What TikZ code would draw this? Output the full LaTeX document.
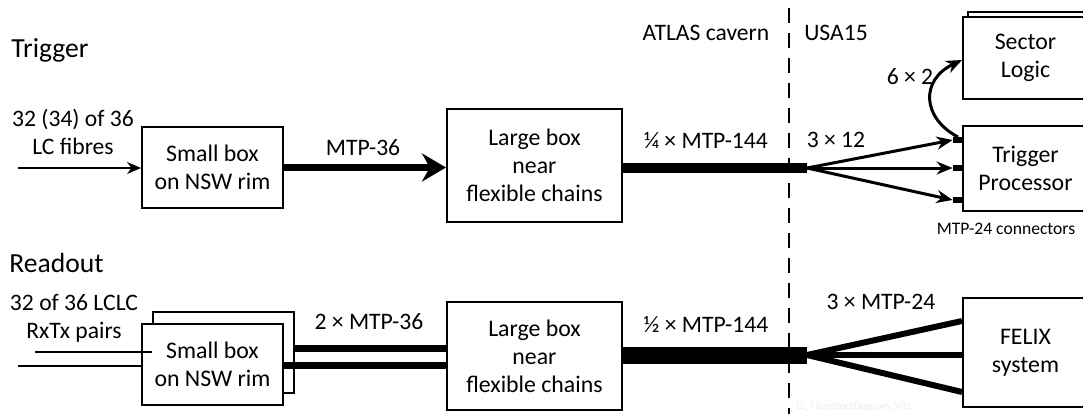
\documentclass[tikz,border=0pt]{standalone}
\usepackage{fontspec}
\setmainfont{Carlito}
\usetikzlibrary{arrows.meta,positioning,calc}

\tikzset{
  unitbox/.style={draw, line width=1pt, fill=white, align=center, inner sep=0pt,
    font=\fontsize{11.9}{14}\selectfont},
  lbl/.style={align=center, inner sep=0pt, font=\fontsize{11.8}{14}\selectfont},
  headlbl/.style={anchor=west, inner sep=0pt, font=\fontsize{13.8}{16}\selectfont},
  thinfibre/.style={line width=1pt},
  stub/.style={fill=black, inner sep=0pt, minimum width=5pt, minimum height=2.6pt}
}

\begin{document}
\begin{tikzpicture}[x=0.5pt, y=-0.5pt]
  \clip (0,0) rectangle (1083,414);
  \fill[white] (0,0) rectangle (1083,414);

  % Section titles and places
  \node[headlbl] (trig) at (11,50) {Trigger};
  \node[headlbl] (read) at (9,263) {Readout};
  \node[lbl] (cavern) at (706,33) {ATLAS cavern};
  \node[lbl] (usa) at (836,33) {USA15};
  \draw[line width=1pt, dash pattern=on 7.5pt off 5pt] (789,8) -- (789,414);

  % Trigger chain
  \node[lbl] (lcin) at (73,132) {32 (34) of 36\\LC fibres};
  \node[unitbox, minimum width=70.5pt, minimum height=40.5pt] (sb1) at (212.5,167.5) {Small box\\on NSW rim};
  \node[unitbox, minimum width=87.5pt, minimum height=56.5pt] (lb1) at (534.5,165.5) {Large box\\near\\flexible chains};
  \node[unitbox, minimum width=62.5pt, minimum height=41pt] (sls) at (1030.5,53) {};
  \node[unitbox, minimum width=62.5pt, minimum height=41pt] (sl) at (1025.5,58) {Sector\\Logic};
  \node[unitbox, minimum width=62.5pt, minimum height=42.5pt] (tp) at (1025.5,168.5) {Trigger\\Processor};
  \node[stub] (c1) at (958,140) {};
  \node[stub] (c2) at (958,168) {};
  \node[stub] (c3) at (958,200) {};
  \coordinate (in1) at (18,168);
  \coordinate (fan1) at (807,168);

  \draw[thinfibre, -{Stealth[length=7pt,width=6pt]}] (in1) -- (in1 -| sb1.west);
  \draw[line width=3.5pt, -{Stealth[length=12pt,width=14pt]}] (sb1.east) -- (sb1.east -| lb1.west);
  \draw[line width=5pt] (lb1.east |- fan1) -- (fan1);
  \foreach \c in {c1,c2,c3}
    \draw[line width=1.5pt, -{Stealth[length=8pt,width=6.5pt]}] (fan1) -- (\c.west);
  \draw[line width=1.5pt, -{Stealth[length=8pt,width=6.5pt]}] (c1.north) .. controls (922,118) and (920,80) .. (sl.west |- 0,60);
  \node[lbl] (mtp36) at (363,148) {MTP-36};
  \node[lbl] (q144) at (706,140) {¼ × MTP-144};
  \node[lbl] (x312) at (836,140) {3 × 12};
  \node[lbl] (x62) at (910,77) {6 × 2};
  \node[lbl, font=\fontsize{8.8}{10}\selectfont] (mtp24c) at (1006,229) {MTP-24 connectors};

  % Readout chain
  \node[lbl] (lclc) at (74,318) {32 of 36 LCLC\\RxTx pairs};
  \node[unitbox, minimum width=70.5pt, minimum height=40.5pt] (sb2s) at (223.5,352.5) {};
  \node[unitbox, minimum width=70.5pt, minimum height=40.5pt] (sb2) at (212.5,364.5) {Small box\\on NSW rim};
  \node[unitbox, minimum width=87.5pt, minimum height=54pt] (lb2) at (534.5,356) {Large box\\near\\flexible chains};
  \node[unitbox, minimum width=62.5pt, minimum height=54.5pt] (fx) at (1025.5,352.5) {FELIX\\system};
  \coordinate (rin1) at (35,352);
  \coordinate (rin2) at (18,366);
  \coordinate (fan2) at (807,355);

  \draw[thinfibre] (rin1) -- (rin1 -| sb2s.west);
  \draw[thinfibre] (rin2) -- (rin2 -| sb2.west);
  \draw[line width=3.5pt] (sb2s.east |- 0,348) -- (lb2.west |- 0,348);
  \draw[line width=3.5pt] (sb2.east |- 0,365) -- (lb2.west |- 0,365);
  \draw[line width=8.5pt] (lb2.east |- fan2) -- (fan2);
  \foreach \y in {321,355,392}
    \draw[line width=3pt] (fan2) -- (fx.west |- 0,\y);
  \node[lbl] (m236) at (369,322) {2 × MTP-36};
  \node[lbl] (h144) at (706,324) {½ × MTP-144};
  \node[lbl] (m324) at (881,302) {3 × MTP-24};
  \node[lbl, text=black!7, font=\fontsize{5.2}{6}\selectfont] (tag) at (854,407) {LL\_FibreBlockDiagram\_V01};
\end{tikzpicture}
\end{document}
